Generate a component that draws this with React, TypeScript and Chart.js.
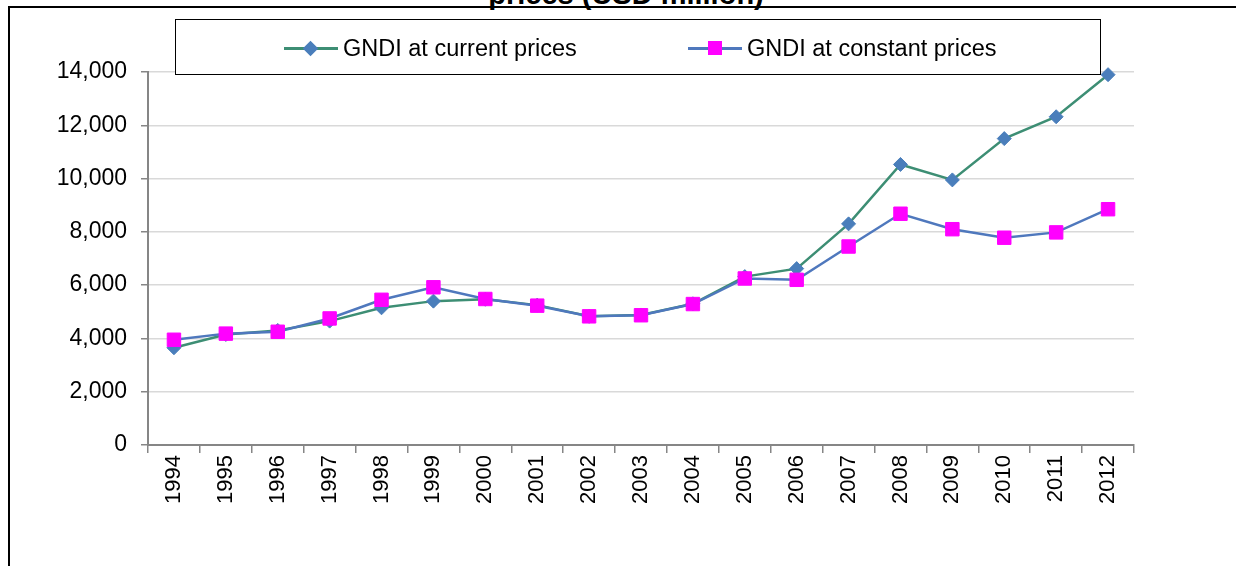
import React, { useEffect, useRef } from "react";
import { Chart, registerables } from "chart.js";

Chart.register(...registerables);

const years = ["1994","1995","1996","1997","1998","1999","2000","2001","2002","2003","2004","2005","2006","2007","2008","2009","2010","2011","2012"];
const currentPrices = [3650, 4150, 4300, 4650, 5150, 5400, 5470, 5250, 4830, 4880, 5300, 6320, 6620, 8300, 10530, 9950, 11500, 12320, 13900];
const constantPrices = [3950, 4180, 4250, 4750, 5450, 5920, 5480, 5230, 4830, 4870, 5290, 6250, 6200, 7450, 8680, 8100, 7780, 7980, 8850];
const yTicks = [0, 2000, 4000, 6000, 8000, 10000, 12000, 14000];
const titleText = "prices (USD million)";
const seriesNames = ["GNDI at current prices", "GNDI at constant prices"];

const GREEN = "#3d8e74";
const DIAMOND = "#4a7ebb";
const BLUE = "#4f78bd";
const PINK = "#ff00ff";
const FONT = "'Liberation Sans', Arial, sans-serif";

export default function App() {
  const ref = useRef<HTMLCanvasElement | null>(null);

  useEffect(() => {
    if (!ref.current) return;
    const chart = new Chart(ref.current, {
      type: "line",
      data: {
        labels: years,
        datasets: [
          {
            label: seriesNames[1],
            data: constantPrices,
            borderColor: BLUE,
            backgroundColor: PINK,
            pointBackgroundColor: PINK,
            pointBorderColor: PINK,
            pointStyle: "rect",
            pointRadius: 9.5,
            pointBorderWidth: 1,
            borderWidth: 2.5,
            tension: 0,
            clip: false,
          },
          {
            label: seriesNames[0],
            data: currentPrices,
            borderColor: GREEN,
            backgroundColor: DIAMOND,
            pointBackgroundColor: DIAMOND,
            pointBorderColor: DIAMOND,
            pointStyle: "rectRot",
            pointRadius: 7,
            pointBorderWidth: 1,
            borderWidth: 2.5,
            tension: 0,
            clip: false,
          },
        ],
      },
      options: {
        animation: false,
        responsive: false,
        maintainAspectRatio: false,
        layout: { padding: { top: 72, right: 102, left: 0, bottom: 0 } },
        plugins: {
          legend: { display: false },
          title: { display: false },
          tooltip: { enabled: false },
        },
        scales: {
          x: {
            type: "category",
            offset: true,
            afterFit: (s: any) => { s.height = 121; },
            grid: {
              offset: true,
              drawOnChartArea: false,
              drawTicks: true,
              tickLength: 8,
              tickColor: "#868686",
              lineWidth: 1.5,
            },
            border: { color: "#868686", width: 2 },
            ticks: {
              minRotation: 90,
              maxRotation: 90,
              autoSkip: false,
              padding: 2,
              color: "#000",
              font: { family: FONT, size: 22 },
            },
          },
          y: {
            min: 0,
            max: 14000,
            afterFit: (s: any) => { s.width = 148; },
            afterBuildTicks: (s: any) => { s.ticks = yTicks.map((v) => ({ value: v })); },
            grid: {
              color: "#d9d9d9",
              lineWidth: 1.5,
              drawTicks: true,
              tickLength: 7,
              tickColor: "#868686",
            },
            border: { color: "#868686", width: 2 },
            ticks: {
              stepSize: 2000,
              padding: 14,
              color: "#000",
              font: { family: FONT, size: 23 },
              callback: (v: any) => Number(v).toLocaleString("en-US"),
            },
          },
        },
      },
    });
    return () => chart.destroy();
  }, []);

  const legendItem = (name: string, lineColor: string, marker: React.ReactNode, left: number) => (
    <div style={{ position: "absolute", left, top: 0, height: 56, display: "flex", alignItems: "center" }}>
      <div style={{ position: "relative", width: 54, height: 20 }}>
        <div style={{ position: "absolute", left: 0, top: 9, width: 54, height: 2.5, background: lineColor }} />
        {marker}
      </div>
      <span style={{ marginLeft: 5, fontFamily: FONT, fontSize: 23.5, color: "#000", whiteSpace: "nowrap" }}>{name}</span>
    </div>
  );

  return (
    <div style={{ position: "fixed", left: 0, top: 0, width: 1236, height: 566, overflow: "hidden", background: "#fff" }}>
      <div style={{ position: "absolute", left: 0, top: -20, width: 1252, textAlign: "center", fontFamily: FONT, fontWeight: "bold", fontSize: 29, lineHeight: "28px", color: "#000", whiteSpace: "nowrap" }}>
        {titleText}
      </div>
      <div style={{ position: "absolute", left: 8, top: 6, width: 1300, height: 700, borderLeft: "2.5px solid #000", borderTop: "2px solid #000", boxSizing: "border-box" }} />
      <canvas ref={ref} width={1236} height={566} style={{ position: "absolute", left: 0, top: 0, width: 1236, height: 566 }} />
      <div style={{ position: "absolute", left: 175, top: 19, width: 926, height: 56, border: "1px solid #000", background: "#fff", boxSizing: "border-box" }}>
        {legendItem(seriesNames[0], GREEN,
          <div style={{ position: "absolute", left: 21, top: 4.5, width: 11, height: 11, background: DIAMOND, transform: "rotate(45deg)" }} />,
          108)}
        {legendItem(seriesNames[1], BLUE,
          <div style={{ position: "absolute", left: 20, top: 3, width: 14, height: 14, background: PINK }} />,
          512)}
      </div>
    </div>
  );
}
